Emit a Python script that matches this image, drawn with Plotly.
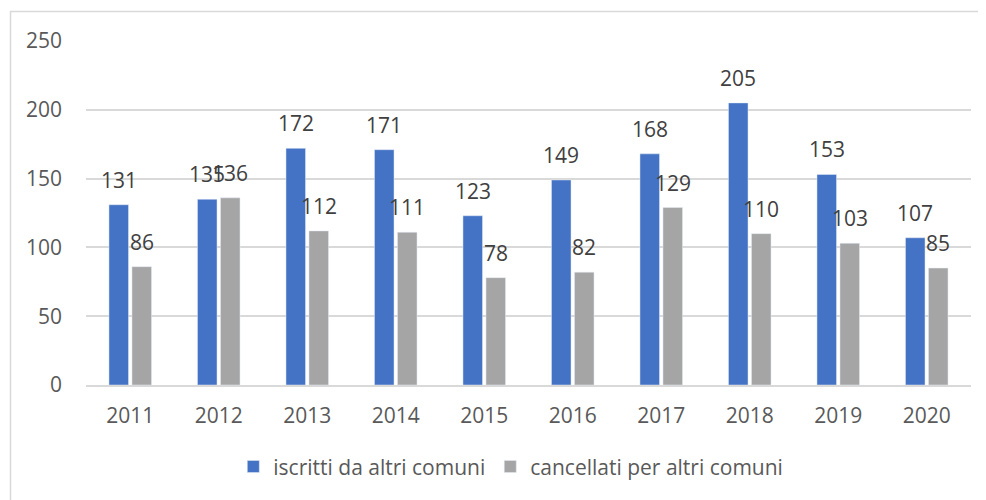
import plotly.graph_objects as go

# dati
anni = ['2011', '2012', '2013', '2014', '2015', '2016', '2017', '2018', '2019', '2020']
iscritti = [131, 135, 172, 171, 123, 149, 168, 205, 153, 107]
cancellati = [86, 136, 112, 111, 78, 82, 129, 110, 103, 85]

FONT = 'Open Sans'
TXT = '#595959'
GRID = '#d9d9d9'

fig = go.Figure()
fig.add_trace(go.Bar(x=anni, y=iscritti, name='iscritti da altri comuni',
                     marker=dict(color='#4472C4')))
fig.add_trace(go.Bar(x=anni, y=cancellati, name='cancellati per altri comuni',
                     marker=dict(color='#A5A5A5')))

# etichette sopra le barre (stile Excel "estremità esterna")
# asse categorico: x = indice della categoria
annots = []
for serie, dx in ((iscritti, -11.5), (cancellati, 11.5)):
    for i, v in enumerate(serie):
        annots.append(dict(x=i, y=v, text=str(v), showarrow=False, xshift=dx, yshift=25,
                           yanchor='middle', font=dict(family=FONT, size=21, color='#404040')))

fig.update_layout(
    width=986, height=500,
    margin=dict(l=78, r=23, t=33, b=123, autoexpand=False),
    paper_bgcolor='white', plot_bgcolor='white',
    barmode='group', bargap=0.48, bargroupgap=0.15,
    font=dict(family=FONT, size=21, color=TXT),
    showlegend=True,
    legend=dict(orientation='h', x=0.48, xanchor='center', y=-0.238, yanchor='middle',
                font=dict(family=FONT, size=21, color=TXT), itemwidth=30,
                traceorder='normal'),
    annotations=annots,
    shapes=[dict(type='rect', xref='paper', yref='paper',
                 x0=-0.0853, x1=1.03, y0=-0.36, y1=1.0857,
                 line=dict(color=GRID, width=1.5), fillcolor='rgba(0,0,0,0)', layer='below')],
)
fig.update_xaxes(type='category', range=[-0.5, len(anni) - 0.5], showgrid=False,
                 showline=True, linecolor=GRID, linewidth=1.5,
                 ticks='', tickfont=dict(family=FONT, size=21, color=TXT),
                 ticklabelstandoff=11, automargin=False)
fig.update_yaxes(range=[0, 250], dtick=50, showgrid=True, gridcolor=GRID, gridwidth=1.5,
                 zeroline=False, showline=False, ticks='',
                 tickfont=dict(family=FONT, size=21, color=TXT), ticklabelstandoff=23,
                 automargin=False)

fig.write_html("out.html")
